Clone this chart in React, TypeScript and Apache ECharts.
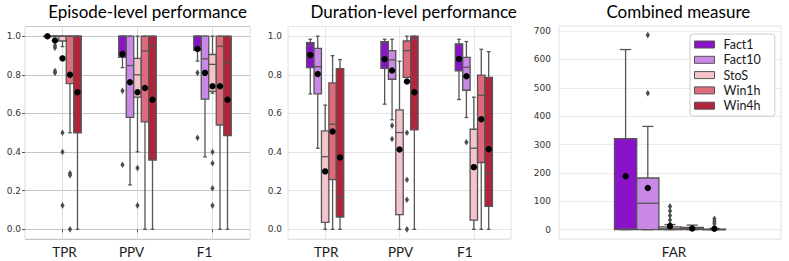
import React, { useEffect, useRef } from "react";
import * as echarts from "echarts";

const HUES = ["Fact1", "Fact10", "StoS", "Win1h", "Win4h"];
const HUE_COLORS = ["#8a12c9", "#c987e6", "#f3c4cb", "#df6a79", "#b2243b"];

const EPISODE_CATS = ["TPR", "PPV", "F1"];
const DURATION_CATS = ["TPR", "PPV", "F1"];
const COMBINED_CATS = ["FAR"];

const TITLES = ["Episode-level performance", "Duration-level performance", "Combined measure"];

// Each box: [min, q1, median, q3, max], one list per hue (Fact1, Fact10, StoS, Win1h, Win4h)
const episodeBoxes = [
  [[1, 1, 1, 1, 1], [0.837, 0.89, 1, 1, 1], [0.871, 0.926, 1, 1, 1]],
  [[1, 1, 1, 1, 1], [0.23, 0.58, 0.848, 1, 1], [0.375, 0.674, 0.883, 1, 1]],
  [[0.946, 0.975, 1, 1, 1], [0.401, 0.684, 0.8, 0.885, 1], [0.705, 0.714, 0.854, 0.905, 1]],
  [[0.5, 0.754, 1, 1, 1], [0, 0.556, 0.924, 1, 1], [0, 0.54, 0.948, 1, 1]],
  [[0, 0.5, 1, 1, 1], [0, 0.359, 0.95, 1, 1], [0, 0.485, 0.864, 1, 1]],
];
const episodeMeans = [
  [1.0, 0.908, 0.933],
  [0.977, 0.761, 0.81],
  [0.885, 0.71, 0.741],
  [0.8, 0.732, 0.741],
  [0.71, 0.671, 0.671],
];
// [category index, value]
const episodeOutliers = [
  [[1, 0.717], [1, 0.334], [2, 0.81], [2, 0.474]],
  [[0, 0.95], [0, 0.94], [0, 0.82], [0, 0.81]],
  [[0, 0.5], [0, 0.4], [0, 0.124], [1, 0.317], [1, 0.124], [2, 0.4], [2, 0.342], [2, 0.213], [2, 0.123]],
  [[0, 0.29], [0, 0.28], [0, 0.0]],
  [],
];

const durationBoxes = [
  [[0.701, 0.837, 0.951, 0.966, 0.984], [0.648, 0.834, 0.966, 0.972, 0.984], [0.672, 0.82, 0.955, 0.96, 0.984]],
  [[0.42, 0.701, 0.842, 0.937, 1.0], [0.567, 0.777, 0.877, 0.925, 0.984], [0.579, 0.72, 0.839, 0.89, 0.972]],
  [[0, 0.036, 0.376, 0.51, 0.643], [0, 0.076, 0.501, 0.618, 0.87], [0, 0.048, 0.42, 0.518, 0.684]],
  [[0, 0.257, 0.544, 0.758, 0.899], [0.787, 0.787, 0.925, 0.975, 1.0], [0, 0.346, 0.694, 0.798, 0.932]],
  [[0, 0.064, 0.169, 0.832, 0.879], [0, 0.515, 0.985, 1.0, 1.0], [0, 0.119, 0.289, 0.786, 0.92]],
];
const durationMeans = [
  [0.903, 0.88, 0.882],
  [0.804, 0.822, 0.792],
  [0.3, 0.413, 0.322],
  [0.506, 0.765, 0.57],
  [0.372, 0.71, 0.415],
];
const durationOutliers = [
  [],
  [[1, 0.537], [1, 0.468], [2, 0.451]],
  [],
  [[1, 0.5], [1, 0.257], [1, 0.153], [1, 0.0]],
  [],
];

const combinedBoxes = [
  [[0, 0, 2, 321, 635]],
  [[0, 0, 93, 182, 364]],
  [[0, 0, 3, 10, 18]],
  [[0, 0, 3, 8, 16]],
  [[0, 0, 0, 2, 4]],
];
const combinedMeans = [[188], [147], [12], [4], [3]];
const combinedOutliers = [
  [],
  [[0, 686], [0, 481]],
  [[0, 82], [0, 66], [0, 50], [0, 34], [0, 20]],
  [],
  [[0, 38], [0, 29], [0, 21]],
];

const EDGE = "#555555";
const LW = 1.3;

function boxRenderer(k: number) {
  return (params: any, api: any) => {
    const cat = api.value(0);
    const bw = api.size([1, 0])[0];
    const w = bw * 0.1;
    const cx = api.coord([cat, 0])[0] + (k - 2) * w;
    const y = (v: number) => api.coord([cat, v])[1];
    const yMin = y(api.value(1));
    const yQ1 = y(api.value(2));
    const yMed = y(api.value(3));
    const yQ3 = y(api.value(4));
    const yMax = y(api.value(5));
    const cap = w * 0.25;
    const ls = { stroke: EDGE, lineWidth: LW };
    return {
      type: "group",
      children: [
        { type: "line", shape: { x1: cx, y1: yQ3, x2: cx, y2: yMax }, style: ls },
        { type: "line", shape: { x1: cx, y1: yQ1, x2: cx, y2: yMin }, style: ls },
        { type: "line", shape: { x1: cx - cap, y1: yMax, x2: cx + cap, y2: yMax }, style: ls },
        { type: "line", shape: { x1: cx - cap, y1: yMin, x2: cx + cap, y2: yMin }, style: ls },
        {
          type: "rect",
          shape: { x: cx - w / 2, y: yQ3, width: w, height: Math.max(yQ1 - yQ3, 0.5) },
          style: { fill: HUE_COLORS[k], stroke: EDGE, lineWidth: LW },
        },
        { type: "line", shape: { x1: cx - w / 2, y1: yMed, x2: cx + w / 2, y2: yMed }, style: ls },
      ],
    };
  };
}

function pointRenderer(k: number, kind: "mean" | "out") {
  return (params: any, api: any) => {
    const cat = api.value(0);
    const bw = api.size([1, 0])[0];
    const w = bw * 0.1;
    const p = api.coord([cat, api.value(1)]);
    const cx = api.coord([cat, 0])[0] + (k - 2) * w;
    const cy = p[1];
    if (kind === "mean") {
      return { type: "circle", shape: { cx, cy, r: 3.2 }, style: { fill: "#000" } };
    }
    return {
      type: "polygon",
      shape: { points: [[cx, cy - 3.3], [cx + 2.1, cy], [cx, cy + 3.3], [cx - 2.1, cy]] },
      style: { fill: "#4d4d4d" },
    };
  };
}

function panelSeries(p: number, boxes: number[][][], means: number[][], outliers: number[][][]) {
  const out: any[] = [];
  HUES.forEach((name, k) => {
    out.push({
      type: "custom",
      name,
      xAxisIndex: p,
      yAxisIndex: p,
      z: 2,
      itemStyle: { color: HUE_COLORS[k], borderColor: EDGE, borderWidth: 1 },
      encode: { x: 0, y: [1, 2, 3, 4, 5] },
      data: boxes[k].map((b, i) => [i, ...b]),
      renderItem: boxRenderer(k),
    });
    out.push({
      type: "custom",
      name: name + " outliers",
      xAxisIndex: p,
      yAxisIndex: p,
      z: 3,
      encode: { x: 0, y: 1 },
      data: outliers[k],
      renderItem: pointRenderer(k, "out"),
    });
    out.push({
      type: "custom",
      name: name + " mean",
      xAxisIndex: p,
      yAxisIndex: p,
      z: 4,
      encode: { x: 0, y: 1 },
      data: means[k].map((m, i) => [i, m]),
      renderItem: pointRenderer(k, "mean"),
    });
  });
  return out;
}

function makeRich(shifts: number[]) {
  const rich: any = {};
  shifts.forEach((s, i) => {
    rich["c" + i] = {
      fontFamily: "Lato",
      fontSize: 13.5,
      color: "#1a1a1a",
      padding: s >= 0 ? [0, 0, 0, 2 * s] : [0, -2 * s, 0, 0],
    };
  });
  return rich;
}

function xAxisFor(p: number, cats: string[], shifts: number[], ticks: boolean, split: boolean, splitColor: string) {
  return {
    type: "category",
    gridIndex: p,
    data: cats,
    axisLine: { show: false },
    axisTick: { show: ticks, alignWithLabel: true, length: 3, lineStyle: { color: "#555" } },
    axisLabel: {
      margin: 6,
      formatter: (v: string, i: number) => `{c${i}|${v}}`,
      rich: makeRich(shifts),
    },
    splitLine: { show: split, alignWithLabel: true, lineStyle: { color: splitColor, width: 1 } },
  };
}

function yAxisFor(p: number, min: number, max: number, ticks: boolean, margin: number, splitColor: string, decimals: number, step: number) {
  return {
    type: "value",
    gridIndex: p,
    min,
    max,
    minInterval: step,
    maxInterval: step,
    axisLine: { show: false },
    axisTick: { show: ticks, length: 3, lineStyle: { color: "#555" } },
    axisLabel: {
      margin,
      showMinLabel: false,
      showMaxLabel: false,
      fontFamily: "DejaVu Sans",
      fontSize: 9,
      color: "#333",
      formatter: (v: number) => v.toFixed(decimals),
    },
    splitLine: { show: true, lineStyle: { color: splitColor, width: 1 } },
  };
}

export default function App() {
  const ref = useRef<HTMLDivElement>(null);
  useEffect(() => {
    if (!ref.current) return;
    const chart = echarts.init(ref.current, null, { renderer: "svg" });
    const titleStyle = { fontFamily: "Lato", fontSize: 17, fill: "#000", align: "center", verticalAlign: "top" };
    chart.setOption({
      animation: false,
      backgroundColor: "#fff",
      grid: [
        { left: 25, top: 26.5, width: 225, height: 212.5, show: true, borderColor: "#dcdcdc", borderWidth: 1, backgroundColor: "#fff" },
        { left: 288, top: 26.5, width: 223, height: 212.5, show: true, borderColor: "#e2e2e2", borderWidth: 1, backgroundColor: "#fff" },
        { left: 559, top: 26, width: 222, height: 213, show: true, borderColor: "#e2e2e2", borderWidth: 1, backgroundColor: "#fff" },
      ],
      xAxis: [
        xAxisFor(0, EPISODE_CATS, [2, -6, -8], true, true, "#dddddd"),
        xAxisFor(1, DURATION_CATS, [1, 1, -9], false, true, "#e6e6e6"),
        xAxisFor(2, COMBINED_CATS, [4], false, false, "#ebebeb"),
      ],
      yAxis: [
        yAxisFor(0, -0.05, 1.05, true, 4, "#c6c6c6", 1, 0.2),
        yAxisFor(1, -0.05, 1.05, false, 6, "#e4e4e4", 1, 0.2),
        yAxisFor(2, -33, 718, false, 8, "#ebebeb", 0, 100),
      ],
      legend: {
        data: HUES,
        orient: "vertical",
        left: 690,
        top: 34,
        icon: "rect",
        itemWidth: 20,
        itemHeight: 7,
        itemGap: 2.3,
        padding: [4, 14, 4, 4],
        backgroundColor: "rgba(255,255,255,0.9)",
        borderColor: "#cccccc",
        borderWidth: 1,
        borderRadius: 3,
        itemStyle: { borderColor: EDGE, borderWidth: 1 },
        textStyle: { fontFamily: "Lato", fontSize: 12.5, lineHeight: 12, color: "#1a1a1a", padding: [0, 0, 0, 4] },
        selectedMode: false,
      },
      graphic: [
        { type: "text", x: 147.5, y: 2.5, style: { ...titleStyle, text: TITLES[0] } },
        { type: "text", x: 413.7, y: 2.5, style: { ...titleStyle, text: TITLES[1] } },
        { type: "text", x: 678.3, y: 2.5, style: { ...titleStyle, text: TITLES[2] } },
      ],
      series: [
        ...panelSeries(0, episodeBoxes, episodeMeans, episodeOutliers),
        ...panelSeries(1, durationBoxes, durationMeans, durationOutliers),
        ...panelSeries(2, combinedBoxes, combinedMeans, combinedOutliers),
      ],
    });
    return () => chart.dispose();
  }, []);
  return (
    <div
      ref={ref}
      style={{ position: "absolute", left: 0, top: 0, width: 789, height: 261 }}
    />
  );
}
